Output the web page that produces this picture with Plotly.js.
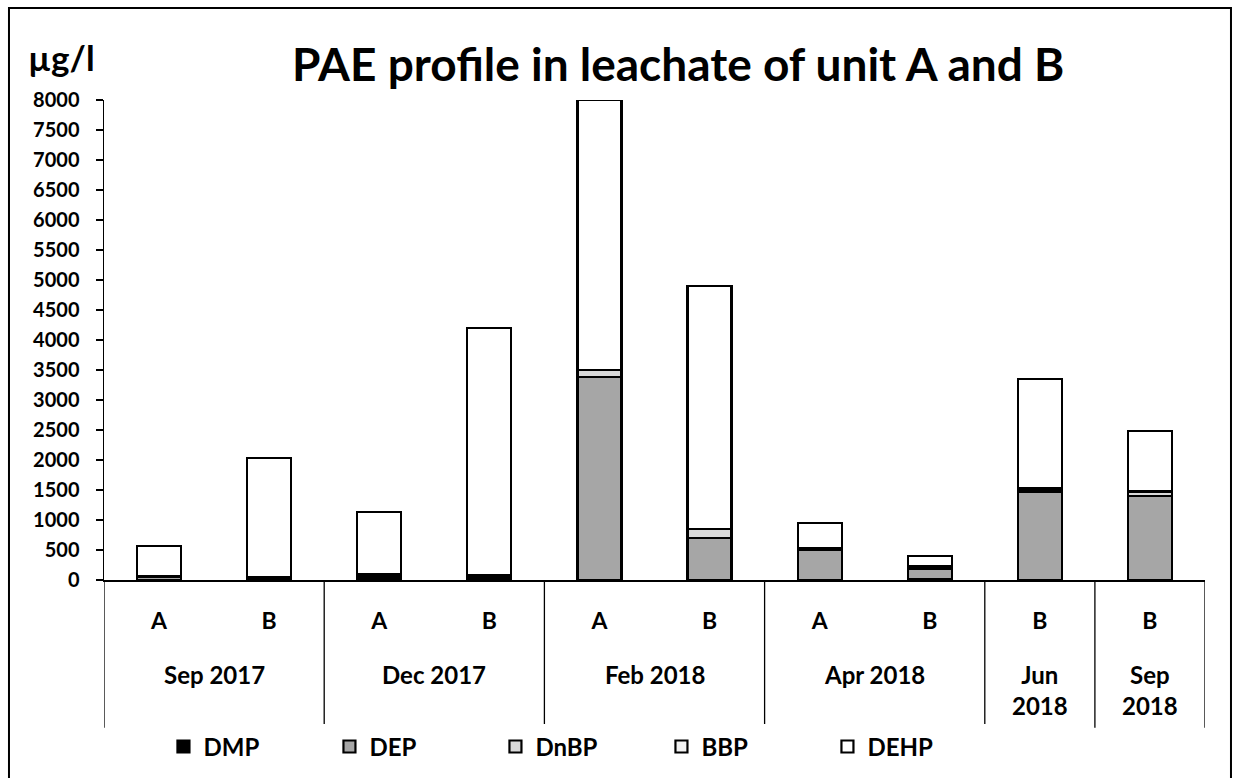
<!DOCTYPE html>
<html>
<head>
<meta charset="utf-8">
<script src="https://cdn.plot.ly/plotly-3.0.1.min.js"></script>
<style>html,body{margin:0;padding:0;background:#fff;}#chart{width:1233px;height:778px;}</style>
</head>
<body>
<div id="chart"></div>
<script>
// ---- data ----
var groups = ['Sep 2017','Sep 2017','Dec 2017','Dec 2017','Feb 2018','Feb 2018','Apr 2018','Apr 2018','Jun<br>2018','Sep<br>2018'];
var units  = ['A','B','A','B','A','B','A','B','B','B'];
var seriesNames = ['DMP','DEP','DnBP','BBP','DEHP'];
var DMP  = [5, 20, 30, 25, 5, 5, 5, 15, 5, 5];
var DEP  = [45, 15, 40, 35, 3380, 690, 505, 175, 1470, 1390];
var DnBP = [15, 10, 20, 20, 110, 150, 10, 30, 45, 70];
var BBP  = [5, 5, 5, 5, 10, 10, 5, 5, 10, 15];
var DEHP = [500, 1980, 1045, 4115, 4490, 4040, 420, 170, 1815, 1000];
var yTicks = [0,500,1000,1500,2000,2500,3000,3500,4000,4500,5000,5500,6000,6500,7000,7500,8000];

// ---- styling ----
var colors = ['#000000','#a6a6a6','#d9d9d9','#f2f2f2','#ffffff'];
var FONT = 'Lato, "Open Sans", sans-serif';
var values = [DMP, DEP, DnBP, BBP, DEHP];
var xIdx = units.map(function(_, i){ return i; });

var traces = values.map(function(v, k){
  return {
    type: 'bar', name: seriesNames[k], x: xIdx, y: v, width: 0.4,
    marker: {color: colors[k], line: {color: '#000', width: 2.2}},
    cliponaxis: false, hoverinfo: 'name+y'
  };
});

// group spans derived from the groups array
var spans = [];
groups.forEach(function(g, i){
  if (!spans.length || spans[spans.length-1].name !== g) spans.push({name: g, start: i, end: i});
  else spans[spans.length-1].end = i;
});

var annotations = spans.map(function(s){
  return {xref:'x', yref:'paper', x:(s.start+s.end)/2, y:-0.163, yanchor:'top', xanchor:'center',
          text:s.name, showarrow:false, font:{family:FONT, size:24, weight:'bold', color:'#000'}};
});
annotations.push({xref:'paper', yref:'paper', x:-0.071, y:1.09, xanchor:'left', yanchor:'middle',
  text:'µg/l', showarrow:false, font:{family:FONT, size:35, weight:'bold', color:'#000'}});

var shapes = [];
var bounds = [spans[0].start - 0.5].concat(spans.map(function(s){ return s.end + 0.5; }));
bounds.forEach(function(b){
  shapes.push({type:'line', xref:'x', yref:'paper', x0:b, x1:b, y0:0, y1:-0.308, line:{color:'#000', width:1.3}});
});
shapes.push({type:'rect', xref:'paper', yref:'paper', x0:-0.0863, x1:1.0236, y0:1.1917, y1:-0.45,
  line:{color:'#000', width:2}, fillcolor:'rgba(0,0,0,0)'});

var layout = {
  width: 1233, height: 778,
  margin: {l:104, r:28, t:100, b:198},
  paper_bgcolor:'#fff', plot_bgcolor:'#fff',
  barmode: 'stack',
  showlegend: true,
  title: {text:'PAE profile in leachate of unit A and B', x:0.55, xref:'container', y:0.917, yref:'container',
          xanchor:'center', yanchor:'middle', font:{family:FONT, size:46, weight:'bold', color:'#000'}},
  xaxis: {range:[-0.5, 9.5], tickmode:'array', tickvals:xIdx, ticktext:units, showgrid:false, zeroline:false,
          showline:true, linecolor:'#000', linewidth:1.5, ticks:'', ticklabelstandoff:20,
          tickfont:{family:FONT, size:23, weight:'bold', color:'#000'}, fixedrange:true},
  yaxis: {range:[0, 8000], tickmode:'array', tickvals:yTicks, showgrid:false, zeroline:false,
          showline:true, linecolor:'#000', linewidth:1.5, ticks:'outside', ticklen:7, tickcolor:'#000', tickwidth:1.3,
          ticklabelstandoff:12, tickfont:{family:FONT, size:20, weight:'bold', color:'#000'}, fixedrange:true},
  legend: {orientation:'h', x:0.054, xanchor:'left', yref:'container', y:0.04, yanchor:'middle', traceorder:'normal',
           font:{family:FONT, size:24, weight:'bold', color:'#000'}, entrywidth:121, entrywidthmode:'pixels'},
  annotations: annotations,
  shapes: shapes
};

Plotly.newPlot('chart', traces, layout, {displayModeBar:false, staticPlot:true});
</script>
</body>
</html>
